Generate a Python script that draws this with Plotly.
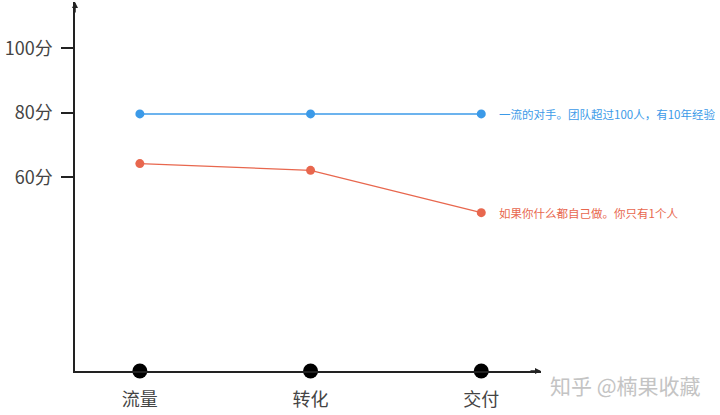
import plotly.graph_objects as go

stages = ["流量", "转化", "交付"]
top_team_scores = [79.7, 79.7, 79.7]
solo_scores = [64.3, 62.2, 49.1]
y_tick_values = [60, 80, 100]
y_tick_labels = ["60分", "80分", "100分"]
top_team_label = "一流的对手。团队超过100人，有10年经验"
solo_label = "如果你什么都自己做。你只有1个人"
watermark = "知乎 @楠果收藏"

BLUE = "#3b9ae8"
RED = "#e8674e"
FONT = "Noto Sans CJK SC, Noto Sans, sans-serif"

fig = go.Figure()

fig.add_trace(go.Scatter(
    x=stages, y=top_team_scores, mode="lines+markers",
    line=dict(color=BLUE, width=1.5),
    marker=dict(color=BLUE, size=9),
    cliponaxis=False, showlegend=False, hoverinfo="skip",
))
fig.add_trace(go.Scatter(
    x=stages, y=solo_scores, mode="lines+markers",
    line=dict(color=RED, width=1.2),
    marker=dict(color=RED, size=9),
    cliponaxis=False, showlegend=False, hoverinfo="skip",
))
# black stage dots on the x axis
fig.add_trace(go.Scatter(
    x=stages, y=[0] * len(stages), mode="markers",
    marker=dict(color="black", size=15),
    cliponaxis=False, showlegend=False, hoverinfo="skip",
))

fig.add_annotation(x=stages[-1], y=top_team_scores[-1], text=top_team_label,
                   showarrow=False, xanchor="left", yanchor="middle", xshift=16,
                   font=dict(family=FONT, size=11.5, color=BLUE))
fig.add_annotation(x=stages[-1], y=solo_scores[-1], text=solo_label,
                   showarrow=False, xanchor="left", yanchor="middle", xshift=16,
                   font=dict(family=FONT, size=11.5, color=RED))

# axis arrowheads
fig.add_annotation(x=0, y=1, xref="paper", yref="paper", ax=0, ay=12,
                   showarrow=True, arrowhead=2, arrowsize=0.8, arrowwidth=1.5,
                   arrowcolor="#222", text="")
fig.add_annotation(x=1, y=0, xref="paper", yref="paper", ax=-12, ay=0,
                   showarrow=True, arrowhead=2, arrowsize=0.8, arrowwidth=1.5,
                   arrowcolor="#222", text="")

# watermark
fig.add_annotation(x=1, y=0, xref="paper", yref="paper", xanchor="left", yanchor="middle",
                   xshift=7, yshift=-14, text=watermark, showarrow=False,
                   font=dict(family=FONT, size=21, color="#c4c4c4"))

fig.update_layout(
    width=720, height=415,
    margin=dict(l=75, r=179, t=2, b=44),
    paper_bgcolor="white", plot_bgcolor="white",
    font=dict(family=FONT, color="#444"),
    xaxis=dict(
        type="category", range=[-0.38, 2.35], automargin=False,
        showline=True, linecolor="#222", linewidth=1.5,
        showgrid=False, zeroline=False,
        ticks="", ticklabelstandoff=12,
        tickfont=dict(family=FONT, size=18, color="#444"),
    ),
    yaxis=dict(
        range=[0, 114.4], automargin=False,
        showline=True, linecolor="#222", linewidth=1.5,
        showgrid=False, zeroline=False,
        tickmode="array", tickvals=y_tick_values, ticktext=y_tick_labels,
        ticks="outside", ticklen=12, tickwidth=1.5, tickcolor="#222",
        ticklabelstandoff=5,
        tickfont=dict(family=FONT, size=18, color="#444"),
    ),
)

fig.write_html("out.html", config={"displayModeBar": False},
               post_script="document.body.style.margin='0';")
